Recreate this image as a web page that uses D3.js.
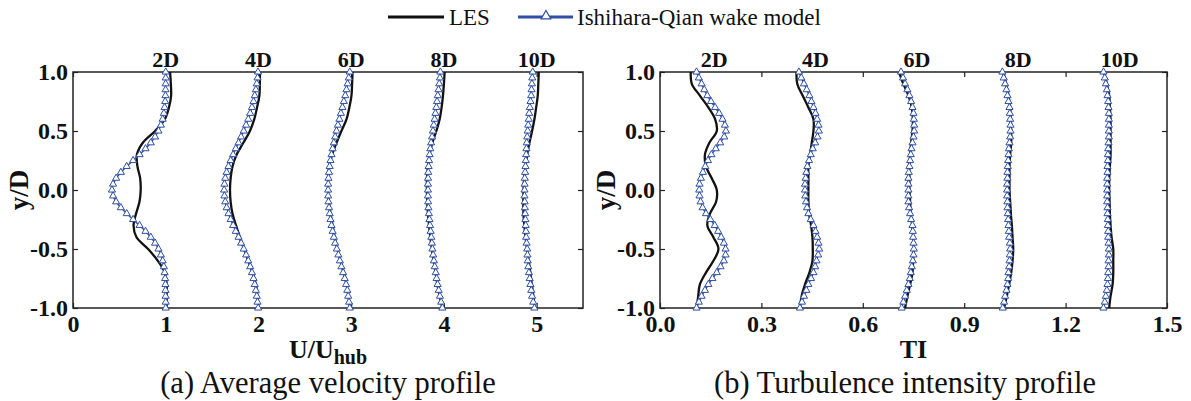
<!DOCTYPE html>
<html>
<head>
<meta charset="utf-8">
<script src="https://cdn.jsdelivr.net/npm/d3@7"></script>
<style>
  html, body { margin: 0; padding: 0; background: #fff; }
  svg { display: block; }
  text { font-family: "Liberation Serif", "Times New Roman", serif; }
</style>
</head>
<body>
<svg id="chart" width="1191" height="401"></svg>
<script>
// ---------------- DATA ----------------
const stations = ["2D", "4D", "6D", "8D", "10D"];
const velOffsets = [0, 1, 2, 3, 4];
const tiOffsets = [0, 0.3, 0.6, 0.9, 1.2];

// y/D sampling of the wake-model curves (markers)
const yModel = [1.00, 0.95, 0.90, 0.85, 0.80, 0.75, 0.70, 0.65, 0.60, 0.55, 0.50, 0.45, 0.40, 0.35, 0.30, 0.25, 0.20, 0.15, 0.10, 0.05, 0.00,
  -0.05, -0.10, -0.15, -0.20, -0.25, -0.30, -0.35, -0.40, -0.45, -0.50, -0.55, -0.60, -0.65, -0.70, -0.75, -0.80, -0.85, -0.90, -0.95, -1.00];
// y/D sampling of the LES curves
const yLES = [1.0, 0.9, 0.8, 0.7, 0.6, 0.5, 0.4, 0.3, 0.2, 0.1, 0.0, -0.1, -0.2, -0.3, -0.4, -0.5, -0.6, -0.7, -0.8, -0.9, -1.0];

// (a) U/Uhub — Ishihara-Qian wake model
const velModel2D = [1.000, 1.000, 0.999, 0.998, 0.997, 0.994, 0.988, 0.980, 0.967, 0.948, 0.922, 0.885, 0.839, 0.782, 0.718, 0.648, 0.579, 0.516, 0.465, 0.432, 0.420,
  0.432, 0.465, 0.516, 0.579, 0.648, 0.718, 0.782, 0.839, 0.885, 0.922, 0.948, 0.967, 0.980, 0.988, 0.994, 0.997, 0.998, 0.999, 1.000, 1.000];
const velModel4D = [0.995, 0.990, 0.982, 0.972, 0.960, 0.947, 0.930, 0.911, 0.890, 0.867, 0.841, 0.813, 0.785, 0.755, 0.727, 0.700, 0.677, 0.657, 0.642, 0.633, 0.630,
  0.633, 0.642, 0.657, 0.677, 0.700, 0.727, 0.755, 0.785, 0.813, 0.841, 0.867, 0.890, 0.911, 0.930, 0.947, 0.960, 0.972, 0.982, 0.990, 0.997];
const velModel6D = [0.985, 0.974, 0.962, 0.949, 0.936, 0.921, 0.906, 0.889, 0.873, 0.857, 0.842, 0.827, 0.813, 0.800, 0.788, 0.777, 0.768, 0.761, 0.755, 0.752, 0.751,
  0.752, 0.755, 0.761, 0.768, 0.777, 0.788, 0.800, 0.813, 0.827, 0.845, 0.862, 0.878, 0.895, 0.913, 0.930, 0.945, 0.958, 0.968, 0.977, 0.985];
const velModel8D = [0.962, 0.957, 0.950, 0.942, 0.934, 0.926, 0.918, 0.909, 0.900, 0.891, 0.882, 0.872, 0.862, 0.853, 0.846, 0.840, 0.835, 0.831, 0.829, 0.828, 0.828,
  0.828, 0.830, 0.833, 0.838, 0.844, 0.850, 0.857, 0.864, 0.870, 0.876, 0.884, 0.892, 0.901, 0.912, 0.921, 0.932, 0.944, 0.957, 0.970, 0.983];
const velModel10D = [0.958, 0.953, 0.949, 0.945, 0.941, 0.934, 0.927, 0.920, 0.915, 0.909, 0.904, 0.898, 0.893, 0.890, 0.887, 0.883, 0.880, 0.876, 0.872, 0.870, 0.869,
  0.869, 0.871, 0.873, 0.876, 0.879, 0.882, 0.885, 0.887, 0.892, 0.898, 0.901, 0.904, 0.910, 0.917, 0.925, 0.933, 0.942, 0.951, 0.963, 0.976];

// (a) U/Uhub — LES
const velLES2D = [1.047, 1.055, 1.058, 1.035, 0.990, 0.886, 0.753, 0.689, 0.695, 0.724, 0.730, 0.717, 0.680, 0.653, 0.685, 0.810, 0.915, 0.990, 1.010, 1.010, 1.010];
const velLES4D = [1.016, 1.015, 1.010, 0.985, 0.955, 0.908, 0.837, 0.765, 0.720, 0.700, 0.693, 0.700, 0.720, 0.758, 0.800, 0.844, 0.890, 0.937, 0.973, 0.990, 0.998];
const velLES6D = [1.014, 1.010, 1.003, 0.980, 0.950, 0.895, 0.842, 0.795, 0.762, 0.752, 0.751, 0.760, 0.777, 0.800, 0.823, 0.852, 0.884, 0.920, 0.950, 0.970, 0.985];
const velLES8D = [1.008, 1.000, 0.990, 0.975, 0.954, 0.918, 0.875, 0.846, 0.828, 0.817, 0.817, 0.820, 0.828, 0.840, 0.853, 0.870, 0.889, 0.910, 0.929, 0.954, 0.983];
const velLES10D = [1.023, 1.018, 1.012, 0.995, 0.976, 0.951, 0.922, 0.898, 0.880, 0.865, 0.858, 0.856, 0.858, 0.867, 0.880, 0.897, 0.915, 0.932, 0.948, 0.965, 0.980];

// (b) TI — Ishihara-Qian wake model
const tiModel2D = [0.108, 0.115, 0.123, 0.131, 0.140, 0.151, 0.163, 0.175, 0.185, 0.192, 0.195, 0.190, 0.178, 0.165, 0.152, 0.142, 0.134, 0.127, 0.121, 0.117, 0.116,
  0.117, 0.120, 0.126, 0.136, 0.149, 0.162, 0.172, 0.181, 0.189, 0.194, 0.194, 0.189, 0.179, 0.168, 0.155, 0.143, 0.133, 0.123, 0.115, 0.108];
const tiModel4D = [0.111, 0.118, 0.126, 0.134, 0.142, 0.148, 0.154, 0.160, 0.165, 0.169, 0.170, 0.166, 0.159, 0.152, 0.146, 0.141, 0.136, 0.133, 0.131, 0.129, 0.129,
  0.130, 0.132, 0.135, 0.139, 0.146, 0.154, 0.160, 0.165, 0.169, 0.171, 0.168, 0.163, 0.159, 0.154, 0.147, 0.139, 0.133, 0.126, 0.120, 0.114];
const tiModel6D = [0.113, 0.119, 0.125, 0.132, 0.138, 0.143, 0.147, 0.150, 0.151, 0.152, 0.152, 0.150, 0.147, 0.144, 0.142, 0.140, 0.138, 0.136, 0.135, 0.135, 0.135,
  0.135, 0.135, 0.137, 0.140, 0.143, 0.147, 0.148, 0.149, 0.150, 0.151, 0.150, 0.148, 0.145, 0.142, 0.139, 0.135, 0.130, 0.125, 0.120, 0.115];
const tiModel8D = [0.113, 0.117, 0.121, 0.125, 0.128, 0.131, 0.134, 0.135, 0.136, 0.137, 0.137, 0.136, 0.134, 0.132, 0.131, 0.130, 0.129, 0.128, 0.128, 0.127, 0.127,
  0.127, 0.128, 0.128, 0.129, 0.130, 0.131, 0.132, 0.133, 0.135, 0.136, 0.135, 0.134, 0.133, 0.131, 0.130, 0.128, 0.125, 0.121, 0.118, 0.114];
const tiModel10D = [0.112, 0.116, 0.119, 0.122, 0.124, 0.126, 0.127, 0.128, 0.128, 0.128, 0.128, 0.128, 0.127, 0.126, 0.125, 0.125, 0.124, 0.124, 0.123, 0.123, 0.123,
  0.123, 0.123, 0.124, 0.124, 0.125, 0.125, 0.126, 0.126, 0.127, 0.128, 0.128, 0.127, 0.127, 0.126, 0.125, 0.124, 0.122, 0.119, 0.116, 0.112];

// (b) TI — LES
const tiLES2D = [0.091, 0.094, 0.118, 0.143, 0.163, 0.168, 0.146, 0.133, 0.136, 0.153, 0.168, 0.166, 0.148, 0.140, 0.158, 0.173, 0.158, 0.136, 0.118, 0.113, 0.109];
const tiLES4D = [0.104, 0.106, 0.122, 0.139, 0.154, 0.154, 0.149, 0.144, 0.139, 0.139, 0.139, 0.139, 0.141, 0.147, 0.151, 0.152, 0.151, 0.142, 0.129, 0.119, 0.114];
const tiLES6D = [0.107, 0.120, 0.135, 0.145, 0.148, 0.147, 0.143, 0.140, 0.138, 0.138, 0.138, 0.140, 0.142, 0.146, 0.149, 0.151, 0.149, 0.147, 0.140, 0.132, 0.125];
const tiLES8D = [0.116, 0.124, 0.131, 0.136, 0.138, 0.139, 0.139, 0.136, 0.134, 0.134, 0.134, 0.136, 0.138, 0.141, 0.143, 0.145, 0.143, 0.139, 0.133, 0.126, 0.118];
const tiLES10D = [0.114, 0.122, 0.129, 0.131, 0.133, 0.133, 0.133, 0.133, 0.131, 0.129, 0.129, 0.130, 0.131, 0.133, 0.136, 0.141, 0.141, 0.141, 0.139, 0.133, 0.129];

// axis ticks
const velTicks = [0, 1, 2, 3, 4, 5];
const velTickLabels = ["0", "1", "2", "3", "4", "5"];
const tiTicks = [0, 0.3, 0.6, 0.9, 1.2, 1.5];
const tiTickLabels = ["0.0", "0.3", "0.6", "0.9", "1.2", "1.5"];
const yTicks = [-1, -0.5, 0, 0.5, 1];
const yTickLabels = ["-1.0", "-0.5", "0.0", "0.5", "1.0"];

const seriesNames = ["LES", "Ishihara-Qian wake model"];

// ---------------- DRAW ----------------
const svg = d3.select("#chart");
svg.append("rect").attr("width", 1191).attr("height", 401).attr("fill", "#fff");

const BLUE = "#2e4fa5";
const TOP = 72, BOTTOM = 308;
const yScale = d3.scaleLinear().domain([-1, 1]).range([BOTTOM, TOP]);

const panels = [
  {
    x0: 73, x1: 583, domain: [0, 5.5], ticks: velTicks, tickLabels: velTickLabels,
    offsets: velOffsets, labelShift: 1.0,
    model: [velModel2D, velModel4D, velModel6D, velModel8D, velModel10D],
    les: [velLES2D, velLES4D, velLES6D, velLES8D, velLES10D],
    xTitle: "U/U", xSub: "hub", caption: "(a) Average velocity profile", captionX: 328
  },
  {
    x0: 660, x1: 1167, domain: [0, 1.5], ticks: tiTicks, tickLabels: tiTickLabels,
    offsets: tiOffsets, labelShift: 0.16,
    model: [tiModel2D, tiModel4D, tiModel6D, tiModel8D, tiModel10D],
    les: [tiLES2D, tiLES4D, tiLES6D, tiLES8D, tiLES10D],
    xTitle: "TI", xSub: null, caption: "(b) Turbulence intensity profile", captionX: 905
  }
];

panels.forEach(p => {
  const x = d3.scaleLinear().domain(p.domain).range([p.x0, p.x1]);
  const g = svg.append("g");

  // axes (inward ticks, MATLAB-style box)
  const fmtX = (d, i) => p.tickLabels[i];
  const fmtY = (d, i) => yTickLabels[i];
  const axB = g.append("g").attr("transform", `translate(0,${BOTTOM})`)
    .call(d3.axisBottom(x).tickValues(p.ticks).tickFormat(fmtX).tickSizeInner(-5).tickSizeOuter(0).tickPadding(7));
  const axT = g.append("g").attr("transform", `translate(0,${TOP})`)
    .call(d3.axisTop(x).tickValues(p.ticks).tickFormat("").tickSizeInner(-5).tickSizeOuter(0));
  const axL = g.append("g").attr("transform", `translate(${p.x0},0)`)
    .call(d3.axisLeft(yScale).tickValues(yTicks).tickFormat(fmtY).tickSizeInner(-5).tickSizeOuter(0).tickPadding(5));
  const axR = g.append("g").attr("transform", `translate(${p.x1},0)`)
    .call(d3.axisRight(yScale).tickValues(yTicks).tickFormat("").tickSizeInner(-5).tickSizeOuter(0));
  [axB, axT, axL, axR].forEach(a => {
    a.select(".domain").remove();
    a.selectAll(".tick line").attr("stroke", "#222").attr("stroke-width", 1.2);
    a.selectAll("text").attr("fill", "#111").attr("font-size", 24).attr("font-weight", "bold")
      .attr("font-family", '"Liberation Serif", serif');
  });

  g.append("rect").attr("x", p.x0).attr("y", TOP).attr("width", p.x1 - p.x0).attr("height", BOTTOM - TOP)
    .attr("fill", "none").attr("stroke", "#222").attr("stroke-width", 1.5);

  // LES curves
  const lesLine = d3.line().x(d => x(d.v)).y(d => yScale(d.y)).curve(d3.curveCatmullRom.alpha(0.5));
  p.les.forEach((arr, k) => {
    const pts = arr.map((v, i) => ({ y: yLES[i], v: v + p.offsets[k] }));
    g.append("path").attr("d", lesLine(pts)).attr("fill", "none").attr("stroke", "#111").attr("stroke-width", 2.3);
  });

  // Model curves + markers
  const modLine = d3.line().x(d => x(d.v)).y(d => yScale(d.y));
  const tri = d3.symbol().type(d3.symbolTriangle).size(22);
  p.model.forEach((arr, k) => {
    const pts = arr.map((v, i) => ({ y: yModel[i], v: v + p.offsets[k] }));
    g.append("path").attr("d", modLine(pts)).attr("fill", "none").attr("stroke", BLUE).attr("stroke-width", 1.4);
    g.selectAll(null).data(pts).enter().append("path")
      .attr("d", tri)
      .attr("transform", d => `translate(${x(d.v)},${yScale(d.y)})`)
      .attr("fill", "#fff").attr("stroke", BLUE).attr("stroke-width", 1);
  });

  // station labels
  stations.forEach((s, k) => {
    g.append("text").attr("x", x(p.offsets[k] + p.labelShift)).attr("y", 67)
      .attr("text-anchor", "middle").attr("font-size", 22).attr("font-weight", "bold").attr("fill", "#111")
      .text(s);
  });

  // y title
  g.append("text").attr("transform", `translate(${p.x0 - 45},190) rotate(-90)`)
    .attr("text-anchor", "middle").attr("font-size", 27).attr("font-weight", "bold").attr("fill", "#111")
    .text("y/D");

  // x title
  const xt = g.append("text").attr("x", (p.x0 + p.x1) / 2).attr("y", 358)
    .attr("text-anchor", "middle").attr("font-size", 26).attr("font-weight", "bold").attr("fill", "#111");
  xt.append("tspan").text(p.xTitle);
  if (p.xSub) xt.append("tspan").attr("font-size", 20).attr("dy", 6).text(p.xSub);

  // caption
  g.append("text").attr("x", p.captionX).attr("y", 393).attr("text-anchor", "middle")
    .attr("font-size", 30.5).attr("fill", "#111").text(p.caption);
});

// legend
const lg = svg.append("g");
lg.append("line").attr("x1", 388).attr("x2", 444).attr("y1", 17).attr("y2", 17).attr("stroke", "#111").attr("stroke-width", 3);
lg.append("text").attr("x", 449).attr("y", 25).attr("font-size", 23).attr("fill", "#111").text(seriesNames[0]);
lg.append("line").attr("x1", 518).attr("x2", 573).attr("y1", 17).attr("y2", 17).attr("stroke", BLUE).attr("stroke-width", 3);
lg.append("path").attr("d", d3.symbol().type(d3.symbolTriangle).size(40)()).attr("transform", "translate(546,16)")
  .attr("fill", "#fff").attr("stroke", BLUE).attr("stroke-width", 1.2);
lg.append("text").attr("x", 577).attr("y", 25).attr("font-size", 23).attr("fill", "#111").text(seriesNames[1]);
</script>
</body>
</html>
